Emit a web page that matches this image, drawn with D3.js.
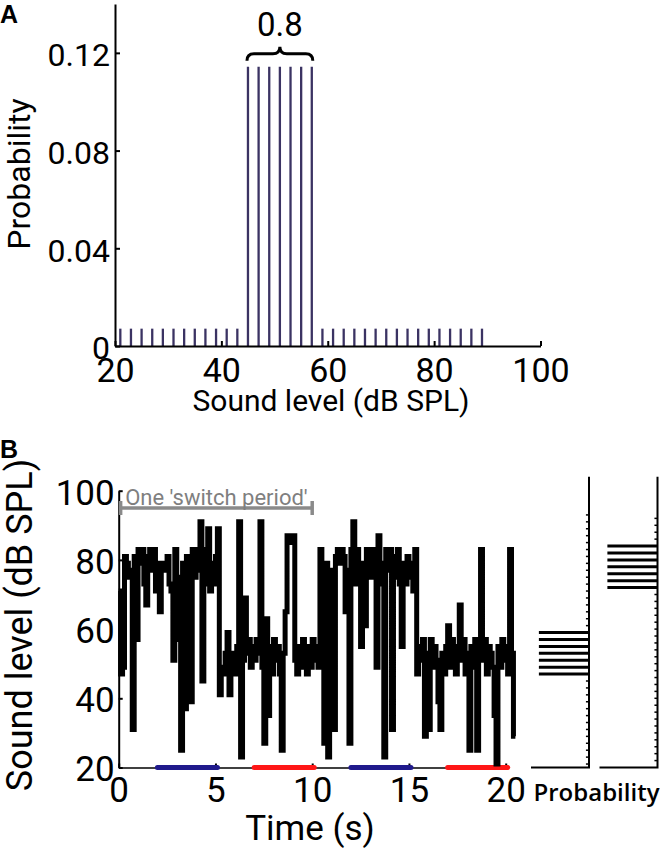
<!DOCTYPE html>
<meta charset="utf-8">
<style>
body { margin: 0; background: #fff; }
svg { display: block; font-family: Roboto, "Liberation Sans", sans-serif; }
</style>
<svg width="660" height="853"></svg>
<script src="https://d3js.org/d3.v7.min.js"></script>
<script>

// ---- panel A: stimulus distribution ----
var levelsA = [21, 23, 25, 27, 29, 31, 33, 35, 37, 39, 41, 43,
               45, 47, 49, 51, 53, 55, 57,
               59, 61, 63, 65, 67, 69, 71, 73, 75, 77, 79, 81, 83, 85, 87, 89];
var probA = [0.0071, 0.0071, 0.0071, 0.0071, 0.0071, 0.0071, 0.0071, 0.0071, 0.0071, 0.0071, 0.0071, 0.0071,
             0.1143, 0.1143, 0.1143, 0.1143, 0.1143, 0.1143, 0.1143,
             0.0071, 0.0071, 0.0071, 0.0071, 0.0071, 0.0071, 0.0071, 0.0071, 0.0071, 0.0071, 0.0071, 0.0071, 0.0071, 0.0071, 0.0071, 0.0071];
var xTicksA = [20, 40, 60, 80, 100];
var yTicksA = [0, 0.04, 0.08, 0.12];
var yTickLabelsA = ["0", "0.04", "0.08", "0.12"];
var highRangeA = [45, 57];
var highMassLabel = "0.8";

// ---- panel B: sound level over time (100 ms steps) ----
var stepB = 0.1;
var seriesB = [
  71, 47, 49, 81, 79, 75, 77, 31, 81, 57,
  83, 79, 83, 73, 67, 81, 83, 77, 83, 71,
  79, 65, 77, 79, 77, 81, 73, 71, 51, 83,
  75, 57, 25, 79, 37, 81, 57, 39, 83, 75,
  83, 77, 91, 45, 83, 73, 89, 71, 79, 73,
  81, 89, 41, 49, 47, 53, 59, 41, 49, 53,
  47, 55, 91, 23, 51, 69, 53, 57, 49, 55,
  51, 57, 53, 91, 49, 27, 63, 35, 55, 47,
  57, 51, 55, 47, 25, 53, 65, 87, 85, 87,
  87, 51, 47, 55, 49, 57, 53, 47, 55, 49,
  57, 51, 55, 49, 83, 79, 27, 79, 23, 75,
  77, 31, 81, 83, 79, 83, 81, 65, 77, 27,
  83, 91, 73, 83, 77, 55, 79, 61, 83, 81,
  75, 83, 79, 49, 87, 73, 79, 23, 83, 77,
  83, 31, 81, 75, 83, 73, 55, 79, 73, 81,
  75, 79, 71, 83, 47, 55, 51, 57, 29, 53,
  31, 57, 49, 55, 51, 39, 31, 53, 47, 55,
  61, 49, 57, 53, 47, 55, 67, 51, 57, 47,
  53, 25, 55, 49, 57, 25, 53, 83, 51, 57,
  47, 55, 53, 49, 35, 21, 55, 49, 57, 51,
  55, 47, 83, 53, 29
];
var xTicksB = [0, 5, 10, 15, 20];
var yTicksB = [20, 40, 60, 80, 100];
var switchPeriod = [0.1, 10];
var windowStart = [2, 7, 12, 17];
var windowEnd = [5, 10, 15, 20];
var windowKind = ["high", "low", "high", "low"];

// side distributions for the two halves of a switch period
var lowLevels = [21, 23, 25, 27, 29, 31, 33, 35, 37, 39, 41, 43, 45, 47, 49, 51, 53, 55, 57, 59,
                 61, 63, 65, 67, 69, 71, 73, 75, 77, 79, 81, 83, 85, 87, 89, 91, 93];
var lowProb = [0.007, 0.007, 0.007, 0.007, 0.007, 0.007, 0.007, 0.007, 0.007, 0.007, 0.007, 0.007, 0.007,
               0.1143, 0.1143, 0.1143, 0.1143, 0.1143, 0.1143, 0.1143,
               0.007, 0.007, 0.007, 0.007, 0.007, 0.007, 0.007, 0.007, 0.007, 0.007, 0.007, 0.007, 0.007, 0.007, 0.007, 0.007, 0.007];
var highLevels = [22, 24, 26, 28, 30, 32, 34, 36, 38, 40, 42, 44, 46, 48, 50, 52, 54, 56, 58, 60,
                  62, 64, 66, 68, 70, 72, 74, 76, 78, 80, 82, 84, 86, 88, 90, 92];
var highProb = [0.007, 0.007, 0.007, 0.007, 0.007, 0.007, 0.007, 0.007, 0.007, 0.007, 0.007, 0.007, 0.007,
                0.007, 0.007, 0.007, 0.007, 0.007, 0.007, 0.007, 0.007, 0.007, 0.007, 0.007, 0.007,
                0.1143, 0.1143, 0.1143, 0.1143, 0.1143, 0.1143, 0.1143,
                0.007, 0.007, 0.007, 0.007];

var svg = d3.select("svg");

function styleAxis(g, size) {
  g.attr("font-family", "Roboto, 'Liberation Sans', sans-serif").attr("font-size", size);
  g.selectAll("path, line").attr("stroke", "#000").attr("stroke-width", 2);
  g.selectAll("text").attr("fill", "#000");
}

// ======== panel A ========
var xA = d3.scaleLinear().domain([20, 100]).range([115, 540.5]);
var yA = d3.scaleLinear().domain([0, 0.14]).range([346, 4]);

svg.append("g").selectAll("line")
    .data(levelsA)
  .enter().append("line")
    .attr("x1", function(d) { return xA(d); })
    .attr("x2", function(d) { return xA(d); })
    .attr("y1", yA(0))
    .attr("y2", function(d, i) { return yA(probA[i]); })
    .attr("stroke", "#3b3363")
    .attr("stroke-width", 2.3);

var gxA = svg.append("g")
    .attr("transform", "translate(0," + yA(0) + ")")
    .call(d3.axisBottom(xA).tickValues(xTicksA).tickSize(-5).tickSizeOuter(0).tickPadding(12));
styleAxis(gxA, 34);

var gyA = svg.append("g")
    .attr("transform", "translate(" + xA(20) + ",0)")
    .call(d3.axisLeft(yA).tickValues(yTicksA).tickSize(-5).tickSizeOuter(0).tickPadding(5)
      .tickFormat(function(d, i) { return yTickLabelsA[i]; }));
styleAxis(gyA, 32);
gyA.selectAll("text").attr("dy", "0.4em");

// brace over the high-probability range
var bL = xA(highRangeA[0]) - 1, bR = xA(highRangeA[1]) + 1, bM = (bL + bR) / 2,
    bTop = yA(d3.max(probA));
svg.append("path")
    .attr("d", "M" + bL + "," + (bTop - 6) +
      " Q" + bL + "," + (bTop - 13) + " " + (bL + 7) + "," + (bTop - 13) +
      " L" + (bM - 7) + "," + (bTop - 13) +
      " Q" + bM + "," + (bTop - 13) + " " + bM + "," + (bTop - 20) +
      " Q" + bM + "," + (bTop - 13) + " " + (bM + 7) + "," + (bTop - 13) +
      " L" + (bR - 7) + "," + (bTop - 13) +
      " Q" + bR + "," + (bTop - 13) + " " + bR + "," + (bTop - 6))
    .attr("fill", "none")
    .attr("stroke", "#000")
    .attr("stroke-width", 3);

svg.append("text")
    .attr("x", bM).attr("y", 36)
    .attr("text-anchor", "middle")
    .attr("font-size", 33)
    .text(highMassLabel);

svg.append("text")
    .attr("transform", "translate(30,174) rotate(-90)")
    .attr("text-anchor", "middle")
    .attr("font-size", 32)
    .text("Probability");

svg.append("text")
    .attr("x", 331).attr("y", 411)
    .attr("text-anchor", "middle")
    .attr("font-size", 30)
    .text("Sound level (dB SPL)");

svg.append("text")
    .attr("x", 0).attr("y", 23)
    .attr("font-size", 25).attr("font-weight", "bold")
    .attr("font-family", "'Liberation Sans', Arial, sans-serif")
    .text("A");

// ======== panel B ========
var xB = d3.scaleLinear().domain([0, 20]).range([118.7, 505.7]);
var yB = d3.scaleLinear().domain([20, 100]).range([767.5, 490.7]);

var gxB = svg.append("g")
    .attr("transform", "translate(0," + yB(20) + ")")
    .call(d3.axisBottom(xB).tickValues(xTicksB).tickSize(-4).tickSizeOuter(0).tickPadding(10));
styleAxis(gxB, 35);
gxB.select(".domain").attr("stroke-width", 1.5);

var gyB = svg.append("g")
    .attr("transform", "translate(" + xB(0) + ",0)")
    .call(d3.axisLeft(yB).tickValues(yTicksB).tickSize(-4).tickSizeOuter(0).tickPadding(4));
styleAxis(gyB, 35);
gyB.selectAll("text").attr("dy", "0.38em");

// analysis windows on the time axis
var windowColor = { high: "#201a8c", low: "#ff1616" };
svg.append("g").selectAll("line")
    .data(windowStart)
  .enter().append("line")
    .attr("x1", function(d) { return xB(d); })
    .attr("x2", function(d, i) { return xB(windowEnd[i]) + 2; })
    .attr("y1", yB(20)).attr("y2", yB(20))
    .attr("stroke", function(d, i) { return windowColor[windowKind[i]]; })
    .attr("stroke-width", 5)
    .attr("stroke-linecap", "round");

// the sound level trace
var pts = seriesB.map(function(v, i) { return [i * stepB, v]; });
pts.push([seriesB.length * stepB, seriesB[seriesB.length - 1]]);

var line = d3.line()
    .curve(d3.curveStepAfter)
    .x(function(d) { return xB(d[0]); })
    .y(function(d) { return yB(d[1]); });

svg.append("path")
    .datum(pts)
    .attr("d", line)
    .attr("fill", "none")
    .attr("stroke", "#000")
    .attr("stroke-width", 5)
    .attr("stroke-linejoin", "miter");

// one switch period marker
var spY = yB(95), spL = xB(switchPeriod[0]), spR = xB(switchPeriod[1]);
svg.append("path")
    .attr("d", "M" + spL + "," + (spY - 7) + "V" + (spY + 7) +
      "M" + spL + "," + spY + "H" + spR +
      "M" + spR + "," + (spY - 7) + "V" + (spY + 7))
    .attr("fill", "none")
    .attr("stroke", "#8a8a8a")
    .attr("stroke-width", 3.5);

svg.append("text")
    .attr("x", (spL + spR) / 2).attr("y", spY - 3)
    .attr("text-anchor", "middle")
    .attr("font-size", 22)
    .attr("fill", "#7f7f7f")
    .text("One 'switch period'");

svg.append("text")
    .attr("transform", "translate(32,625) rotate(-90)")
    .attr("text-anchor", "middle")
    .attr("font-size", 36)
    .text("Sound level (dB SPL)");

svg.append("text")
    .attr("x", 310).attr("y", 840)
    .attr("text-anchor", "middle")
    .attr("font-size", 35)
    .text("Time (s)");

svg.append("text")
    .attr("x", 0).attr("y", 458)
    .attr("font-size", 25).attr("font-weight", "bold")
    .attr("font-family", "'Liberation Sans', Arial, sans-serif")
    .text("B");

// side histograms (probability grows to the left)
var xP = d3.scaleLinear().domain([0, 0.13]).range([0, 57]);

function sideHist(right, levels, probs) {
  var g = svg.append("g");
  g.selectAll("line.bar")
      .data(levels)
    .enter().append("line")
      .attr("class", "bar")
      .attr("x1", function(d, i) { return right - xP(probs[i]); })
      .attr("x2", right)
      .attr("y1", function(d) { return yB(d); })
      .attr("y2", function(d) { return yB(d); })
      .attr("stroke", "#000")
      .attr("stroke-width", function(d, i) { return probs[i] > 0.05 ? 3 : 1.5; });
  g.append("path")
      .attr("d", "M" + (right - 58) + "," + yB(20) + "H" + right + "V" + yB(104))
      .attr("fill", "none")
      .attr("stroke", "#000")
      .attr("stroke-width", 2);
}
sideHist(589, lowLevels, lowProb);
sideHist(657.5, highLevels, highProb);

svg.append("text")
    .attr("x", 596.5).attr("y", 801)
    .attr("text-anchor", "middle")
    .attr("font-family", "'Open Sans', sans-serif")
    .attr("font-weight", 600)
    .attr("font-size", 24)
    .text("Probability");

</script>
